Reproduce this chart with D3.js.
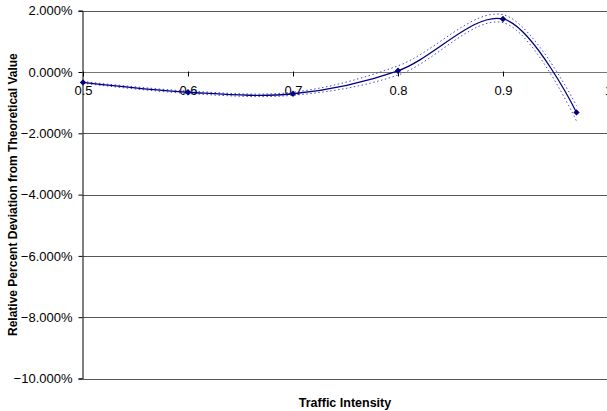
<!DOCTYPE html>
<html>
<head>
<meta charset="utf-8">
<script src="https://cdn.jsdelivr.net/npm/d3@7"></script>
<style>
  body { margin: 0; background: #fff; }
  svg { display: block; font-family: "Liberation Sans", Arial, sans-serif; }
</style>
</head>
<body>
<svg id="chart"></svg>
<script>
// chart data
const intensity = [0.5, 0.6, 0.7, 0.8, 0.9, 0.97];
const deviation = [-0.34, -0.66, -0.71, 0.04, 1.73, -1.32];
const upperBound = [-0.31, -0.62, -0.66, 0.20, 1.87, -1.10];
const lowerBound = [-0.37, -0.70, -0.76, -0.10, 1.61, -1.60];
const xTicks = [0.5, 0.6, 0.7, 0.8, 0.9, 1.0];
const yTicks = [2, 0, -2, -4, -6, -8, -10];

const width = 607;
const height = 411;
const margin = { top: 10.7, right: -1, bottom: 32.5, left: 83 };

const svg = d3.select("#chart")
    .attr("width", width)
    .attr("height", height);

const x = d3.scaleLinear()
    .domain([0.5, 1.0])
    .range([margin.left, width - margin.right]);

const y = d3.scaleLinear()
    .domain([-10, 2])
    .range([height - margin.bottom, margin.top]);

// horizontal gridlines
svg.append("g")
    .selectAll("line")
    .data(yTicks)
    .join("line")
    .attr("x1", margin.left)
    .attr("x2", width)
    .attr("y1", d => Math.round(y(d)) + 0.5)
    .attr("y2", d => Math.round(y(d)) + 0.5)
    .attr("stroke", d => d === 0 ? "#777" : "#555")
    .attr("stroke-width", 1);

// y axis
const yAxis = svg.append("g")
    .attr("transform", `translate(${margin.left - 0.5},0)`)
    .call(d3.axisLeft(y)
        .tickValues(yTicks)
        .tickSize(4)
        .tickPadding(6)
        .tickFormat(d => d3.format(".3f")(d) + "%"));
yAxis.select(".domain").attr("stroke", "#000");
yAxis.selectAll(".tick line").attr("stroke", "#000");
yAxis.selectAll("text")
    .attr("fill", "#000")
    .style("font-size", "13px");

// x axis sits on the zero line
const xAxis = svg.append("g")
    .attr("transform", `translate(0,${Math.round(y(0)) + 0.5})`)
    .call(d3.axisBottom(x)
        .tickValues(xTicks)
        .tickSize(4)
        .tickPadding(9)
        .tickFormat(d => d === 1 ? "1" : d3.format(".1f")(d)));
xAxis.select(".domain").remove();
xAxis.selectAll(".tick line").attr("stroke", "#000").attr("y1", -1);
xAxis.selectAll("text")
    .attr("fill", "#000")
    .style("font-size", "13px");

// series
const points = intensity.map((d, i) => ({ x: d, y: deviation[i], hi: upperBound[i], lo: lowerBound[i] }));

const curve = d3.curveCatmullRom.alpha(0.5);

const line = key => d3.line()
    .x(d => x(d.x))
    .y(d => y(d[key]))
    .curve(curve);

svg.append("path")
    .datum(points)
    .attr("fill", "none")
    .attr("stroke", "#4a4ad0")
    .attr("stroke-width", 1)
    .attr("stroke-dasharray", "1.5,2.5")
    .attr("d", line("hi"));

svg.append("path")
    .datum(points)
    .attr("fill", "none")
    .attr("stroke", "#4a4ad0")
    .attr("stroke-width", 1)
    .attr("stroke-dasharray", "1.5,2.5")
    .attr("d", line("lo"));

svg.append("path")
    .datum(points)
    .attr("fill", "none")
    .attr("stroke", "#000080")
    .attr("stroke-width", 1.3)
    .attr("d", line("y"));

// diamond markers (rotated squares)
svg.append("g")
    .selectAll("path")
    .data(points)
    .join("path")
    .attr("transform", d => `translate(${x(d.x)},${y(d.y)}) rotate(45)`)
    .attr("d", d3.symbol(d3.symbolSquare, 20))
    .attr("fill", "#000080");

// axis titles
svg.append("text")
    .attr("x", (margin.left + width) / 2)
    .attr("y", 407)
    .attr("text-anchor", "middle")
    .style("font-size", "12.5px")
    .style("font-weight", "bold")
    .text("Traffic Intensity");

svg.append("text")
    .attr("transform", `translate(17,${(y(2) + y(-10)) / 2}) rotate(-90)`)
    .attr("text-anchor", "middle")
    .style("font-size", "12px")
    .style("font-weight", "bold")
    .text("Relative Percent Deviation from Theoretical Value");
</script>
</body>
</html>
